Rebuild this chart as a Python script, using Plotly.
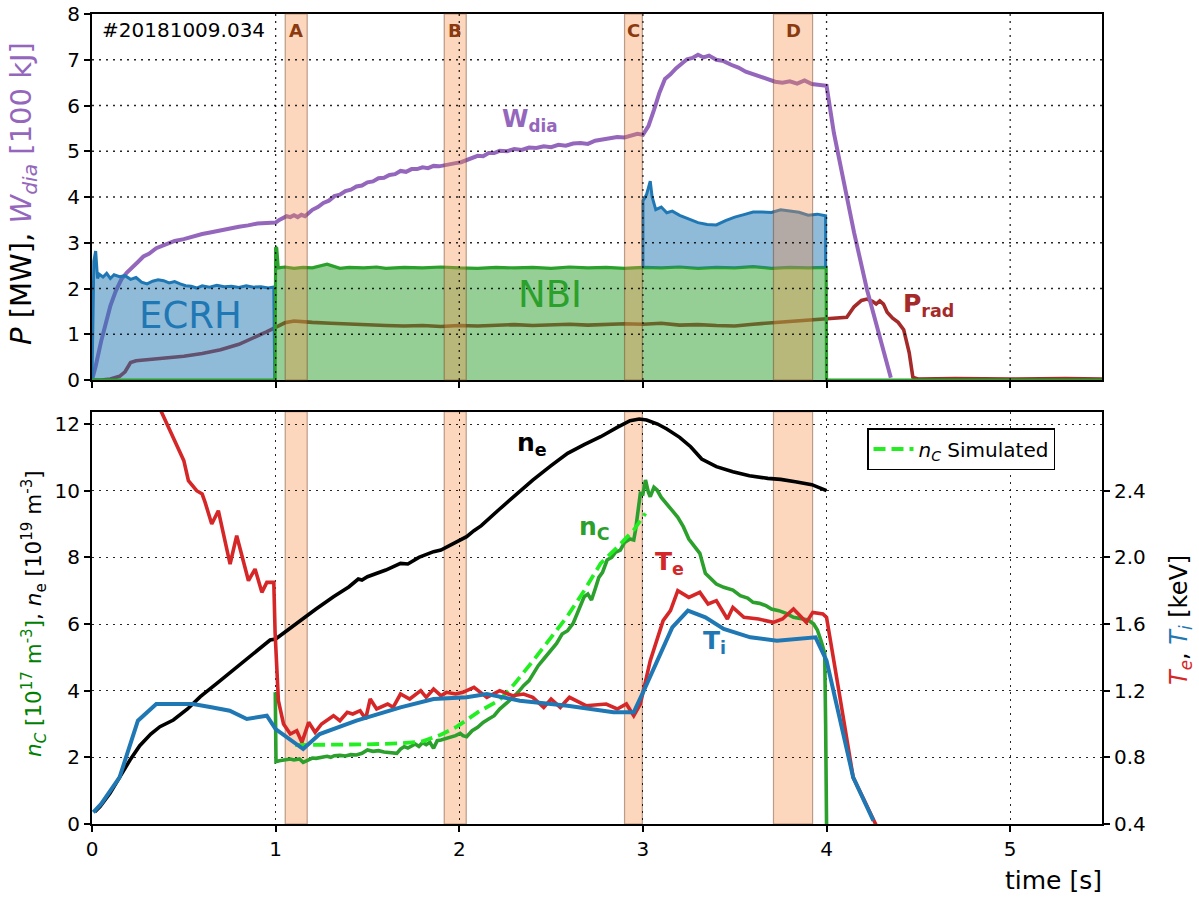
import numpy as np
import plotly.graph_objects as go

# ---------------- data ----------------
# heating phases / analysis windows
band_labels = ["A", "B", "C", "D"]
band_start = [1.052, 1.918, 2.900, 3.711]
band_end = [1.172, 2.038, 2.997, 3.924]

# ECRH power before NBI phase [MW]
ecrh1_t = [0.0, 0.004, 0.01, 0.02, 0.03, 0.04, 0.06, 0.08, 0.10, 0.12, 0.15, 0.18, 0.21, 0.24,
           0.27, 0.30, 0.33, 0.36, 0.39, 0.42, 0.45, 0.48, 0.51, 0.54, 0.57, 0.60, 0.64, 0.68,
           0.72, 0.76, 0.80, 0.84, 0.88, 0.92, 0.96, 0.99, 0.995]
ecrh1_p = [0.0, 1.33, 2.60, 2.82, 2.22, 2.31, 2.25, 2.33, 2.22, 2.30, 2.26, 2.28, 2.20, 2.24,
           2.14, 2.10, 2.16, 2.19, 2.17, 2.12, 2.15, 2.10, 2.06, 2.05, 2.01, 2.06, 2.03, 2.07,
           2.04, 2.05, 2.02, 2.06, 2.03, 2.04, 2.01, 2.03, 0.0]

# ECRH power added on top of NBI [MW]
ecrh2_t = [3.00, 3.01, 3.02, 3.04, 3.05, 3.07, 3.10, 3.13, 3.16, 3.20, 3.25, 3.30, 3.35, 3.40,
           3.45, 3.50, 3.55, 3.60, 3.65, 3.70, 3.75, 3.80, 3.85, 3.90, 3.95, 3.995]
ecrh2_p = [1.46, 1.52, 1.60, 1.89, 1.55, 1.27, 1.33, 1.20, 1.23, 1.13, 1.07, 1.00, 0.95, 0.93,
           1.03, 1.11, 1.15, 1.19, 1.21, 1.22, 1.27, 1.23, 1.21, 1.15, 1.17, 1.13]

# NBI power [MW]
nbi_t = [0.0, 0.997, 1.0, 1.006, 1.014, 1.05, 1.10, 1.15, 1.20, 1.28, 1.35, 1.40, 1.48, 1.55,
         1.60, 1.70, 1.80, 1.90, 2.00, 2.10, 2.20, 2.30, 2.40, 2.50, 2.60, 2.70, 2.80, 2.90,
         3.00, 3.10, 3.20, 3.30, 3.40, 3.50, 3.60, 3.70, 3.80, 3.90, 3.998, 4.0, 5.5]
nbi_p = [0.0, 0.0, 2.90, 2.88, 2.45, 2.47, 2.44, 2.46, 2.45, 2.53, 2.44, 2.46, 2.45, 2.47,
         2.44, 2.46, 2.45, 2.47, 2.45, 2.44, 2.46, 2.45, 2.46, 2.44, 2.47, 2.45, 2.46, 2.44,
         2.46, 2.45, 2.47, 2.44, 2.46, 2.45, 2.48, 2.44, 2.46, 2.45, 2.46, 0.0, 0.0]

# radiated power [MW]
prad_t = [0.0, 0.05, 0.10, 0.15, 0.18, 0.21, 0.24, 0.30, 0.40, 0.50, 0.60, 0.70, 0.80, 0.90,
          0.95, 1.00, 1.05, 1.10, 1.15, 1.20, 1.30, 1.40, 1.50, 1.60, 1.70, 1.80, 1.90, 2.00,
          2.10, 2.20, 2.30, 2.40, 2.50, 2.60, 2.70, 2.80, 2.90, 3.00, 3.10, 3.20, 3.30, 3.40,
          3.50, 3.60, 3.70, 3.80, 3.90, 4.00, 4.05, 4.11, 4.15, 4.19, 4.22, 4.25, 4.27, 4.29,
          4.31, 4.33, 4.36, 4.39, 4.42, 4.45, 4.47, 4.50, 4.70, 5.00, 5.30, 5.50]
prad_p = [0.0, 0.0, 0.02, 0.08, 0.18, 0.38, 0.42, 0.44, 0.48, 0.52, 0.58, 0.66, 0.78, 0.95,
          1.05, 1.15, 1.25, 1.29, 1.27, 1.26, 1.24, 1.22, 1.20, 1.19, 1.18, 1.19, 1.17, 1.19,
          1.18, 1.20, 1.21, 1.19, 1.21, 1.22, 1.20, 1.22, 1.23, 1.22, 1.24, 1.20, 1.21, 1.19,
          1.18, 1.22, 1.25, 1.28, 1.30, 1.33, 1.35, 1.37, 1.60, 1.74, 1.77, 1.72, 1.66, 1.73,
          1.66, 1.48, 1.35, 1.26, 1.10, 0.60, 0.06, 0.02, 0.03, 0.02, 0.03, 0.02]

# diamagnetic energy [100 kJ]
wdia_t = [0.00, 0.02, 0.05, 0.08, 0.10, 0.13, 0.16, 0.19, 0.22, 0.25, 0.28, 0.31, 0.35, 0.40,
          0.45, 0.50, 0.55, 0.60, 0.65, 0.70, 0.75, 0.80, 0.85, 0.90, 0.95, 1.00, 1.02, 1.04,
          1.06, 1.08, 1.10, 1.12, 1.14, 1.16, 1.18, 1.20, 1.23, 1.26, 1.29, 1.32, 1.35, 1.38,
          1.41, 1.44, 1.47, 1.50, 1.53, 1.56, 1.59, 1.62, 1.65, 1.68, 1.71, 1.74, 1.77, 1.80,
          1.83, 1.86, 1.89, 1.92, 1.95, 1.98, 2.01, 2.04, 2.07, 2.10, 2.13, 2.16, 2.19, 2.22,
          2.26, 2.30, 2.34, 2.38, 2.42, 2.46, 2.50, 2.54, 2.58, 2.62, 2.66, 2.70, 2.74, 2.78,
          2.82, 2.86, 2.90, 2.94, 2.97, 3.00, 3.03, 3.06, 3.09, 3.12, 3.15, 3.18, 3.21, 3.24,
          3.27, 3.30, 3.33, 3.36, 3.40, 3.44, 3.48, 3.52, 3.56, 3.60, 3.64, 3.68, 3.72, 3.76,
          3.80, 3.84, 3.88, 3.92, 3.96, 4.00, 4.04, 4.10, 4.15, 4.22, 4.30, 4.35]
wdia_v = [0.00, 0.30, 0.85, 1.35, 1.62, 1.95, 2.20, 2.35, 2.48, 2.58, 2.70, 2.76, 2.88, 2.96,
          3.04, 3.08, 3.14, 3.19, 3.23, 3.27, 3.33, 3.35, 3.38, 3.42, 3.43, 3.44, 3.50, 3.54,
          3.58, 3.56, 3.60, 3.56, 3.61, 3.58, 3.66, 3.72, 3.78, 3.87, 3.92, 4.02, 4.05, 4.13,
          4.16, 4.23, 4.25, 4.32, 4.34, 4.41, 4.42, 4.48, 4.50, 4.57, 4.55, 4.61, 4.61, 4.65,
          4.63, 4.68, 4.67, 4.70, 4.72, 4.74, 4.76, 4.81, 4.84, 4.90, 4.89, 4.96, 4.96, 5.01,
          5.00, 5.05, 5.03, 5.08, 5.07, 5.11, 5.09, 5.14, 5.12, 5.17, 5.18, 5.16, 5.23, 5.25,
          5.29, 5.31, 5.30, 5.35, 5.38, 5.36, 5.55, 5.90, 6.28, 6.58, 6.68, 6.81, 6.91, 7.01,
          7.04, 7.11, 7.05, 7.09, 7.00, 6.97, 6.89, 6.83, 6.74, 6.69, 6.63, 6.58, 6.52, 6.50,
          6.53, 6.48, 6.55, 6.47, 6.46, 6.43, 5.40, 4.23, 3.22, 1.98, 0.82, 0.05]

# electron density [1e19 m^-3]
ne_t = [0.016, 0.044, 0.098, 0.15, 0.207, 0.26, 0.32, 0.37, 0.443, 0.52, 0.59, 0.68, 0.77,
        0.86, 0.92, 0.97, 1.0, 1.06, 1.13, 1.22, 1.315, 1.40, 1.45, 1.47, 1.50, 1.60, 1.68,
        1.72, 1.78, 1.86, 1.90, 1.96, 2.04, 2.08, 2.12, 2.22, 2.30, 2.40, 2.50, 2.59, 2.68,
        2.77, 2.86, 2.93, 2.98, 3.02, 3.08, 3.13, 3.20, 3.26, 3.32, 3.40, 3.49, 3.58, 3.68,
        3.75, 3.83, 3.92, 4.0]
ne_v = [0.37, 0.52, 0.92, 1.40, 1.92, 2.35, 2.70, 2.92, 3.12, 3.45, 3.82, 4.22, 4.62, 5.02,
        5.30, 5.52, 5.55, 5.80, 6.07, 6.45, 6.82, 7.12, 7.35, 7.32, 7.42, 7.62, 7.82, 7.80,
        8.00, 8.17, 8.22, 8.40, 8.62, 8.80, 8.95, 9.45, 9.85, 10.32, 10.75, 11.12, 11.38,
        11.62, 11.90, 12.10, 12.15, 12.12, 12.00, 11.85, 11.60, 11.32, 10.95, 10.72, 10.57,
        10.45, 10.37, 10.34, 10.27, 10.18, 10.00]

# carbon density, measured [1e17 m^-3]
nc_t = [0.998, 1.002, 1.02, 1.05, 1.08, 1.10, 1.13, 1.15, 1.17, 1.20, 1.22, 1.25, 1.28, 1.30,
        1.32, 1.35, 1.38, 1.41, 1.44, 1.47, 1.50, 1.53, 1.56, 1.59, 1.62, 1.64, 1.66, 1.68,
        1.70, 1.72, 1.74, 1.76, 1.78, 1.80, 1.82, 1.84, 1.86, 1.88, 1.90, 1.92, 1.95, 1.98,
        2.005, 2.02, 2.04, 2.07, 2.10, 2.13, 2.16, 2.19, 2.22, 2.26, 2.29, 2.32, 2.35, 2.38,
        2.405, 2.43, 2.46, 2.49, 2.53, 2.56, 2.59, 2.62, 2.65, 2.68, 2.70, 2.72, 2.74, 2.76,
        2.78, 2.805, 2.83, 2.85, 2.877, 2.90, 2.93, 2.95, 2.96, 2.975, 2.986, 3.0, 3.014,
        3.03, 3.04, 3.06, 3.077, 3.10, 3.13, 3.16, 3.19, 3.22, 3.25, 3.28, 3.31, 3.34, 3.37,
        3.40, 3.44, 3.49, 3.53, 3.57, 3.60, 3.635, 3.67, 3.70, 3.74, 3.78, 3.82, 3.86, 3.90,
        3.93, 3.95, 3.97, 3.99, 3.995, 4.0]
nc_v = [3.95, 1.87, 1.90, 1.93, 1.95, 1.92, 1.95, 1.85, 1.90, 1.98, 1.97, 2.00, 2.03, 2.00,
        2.05, 2.06, 2.04, 2.08, 2.07, 2.12, 2.22, 2.18, 2.20, 2.16, 2.15, 2.12, 2.12, 2.25,
        2.32, 2.28, 2.35, 2.40, 2.33, 2.44, 2.38, 2.45, 2.27, 2.50, 2.52, 2.55, 2.60, 2.65,
        2.72, 2.65, 2.62, 2.80, 2.90, 3.05, 3.15, 3.25, 3.45, 3.62, 3.78, 3.95, 4.15, 4.30,
        4.52, 4.75, 4.95, 5.15, 5.42, 5.70, 5.80, 6.02, 6.45, 6.82, 6.90, 6.72, 7.05, 7.40,
        7.55, 7.92, 8.00, 8.15, 8.22, 8.45, 8.55, 8.52, 8.82, 9.40, 9.92, 9.90, 10.32,
        9.95, 9.82, 10.10, 10.02, 9.80, 9.62, 9.40, 9.20, 8.92, 8.55, 8.35, 8.12, 7.52, 7.35,
        7.20, 7.10, 7.02, 6.85, 6.78, 6.65, 6.62, 6.55, 6.45, 6.40, 6.32, 6.20, 6.15, 6.12,
        6.00, 5.82, 5.50, 5.12, 3.00, 0.0]

# carbon density, simulated [1e17 m^-3]
ncsim_t = [1.106, 1.30, 1.50, 1.68, 1.80, 1.90, 1.987, 2.04, 2.10, 2.22, 2.30, 2.405, 2.50,
           2.587, 2.68, 2.77, 2.86, 2.95, 3.014]
ncsim_v = [2.37, 2.37, 2.39, 2.42, 2.48, 2.68, 2.92, 3.12, 3.35, 3.72, 4.20, 4.92, 5.60,
           6.22, 7.00, 7.82, 8.30, 8.82, 9.32]

# electron temperature [keV]
te_t = [0.30, 0.38, 0.50, 0.525, 0.57, 0.60, 0.616, 0.652, 0.688, 0.752, 0.788, 0.852, 0.888,
        0.925, 0.952, 0.99, 0.997, 1.015, 1.043, 1.08, 1.115, 1.143, 1.18, 1.215, 1.25, 1.315,
        1.35, 1.39, 1.42, 1.46, 1.49, 1.515, 1.55, 1.61, 1.64, 1.68, 1.73, 1.79, 1.82, 1.86,
        1.90, 1.93, 1.98, 2.02, 2.08, 2.15, 2.22, 2.29, 2.35, 2.40, 2.46, 2.50, 2.55, 2.60,
        2.69, 2.80, 2.86, 2.91, 2.95, 2.986, 3.04, 3.11, 3.15, 3.19, 3.25, 3.31, 3.355, 3.40,
        3.46, 3.49, 3.55, 3.63, 3.71, 3.76, 3.82, 3.89, 3.925, 3.98, 4.0, 4.07, 4.145, 4.267,
        4.28]
te_v = [3.06, 2.87, 2.58, 2.46, 2.40, 2.38, 2.33, 2.20, 2.28, 1.96, 2.13, 1.86, 1.93, 1.79,
        1.85, 1.85, 1.55, 1.14, 1.00, 0.94, 0.96, 0.89, 1.01, 0.95, 1.00, 1.05, 1.02, 1.07,
        1.06, 1.08, 1.03, 1.15, 1.09, 1.12, 1.10, 1.18, 1.15, 1.20, 1.16, 1.21, 1.17, 1.19,
        1.18, 1.19, 1.22, 1.16, 1.20, 1.17, 1.18, 1.16, 1.10, 1.15, 1.10, 1.16, 1.11, 1.12,
        1.09, 1.12, 1.05, 1.12, 1.38, 1.62, 1.68, 1.80, 1.76, 1.79, 1.72, 1.74, 1.63, 1.70,
        1.64, 1.63, 1.61, 1.63, 1.69, 1.61, 1.67, 1.66, 1.64, 1.18, 0.68, 0.40, 0.37]

# ion temperature [keV]
ti_t = [0.007, 0.05, 0.15, 0.25, 0.35, 0.55, 0.65, 0.75, 0.843, 0.952, 1.0, 1.15, 1.24, 1.44,
        1.68, 1.86, 2.04, 2.15, 2.33, 2.59, 2.84, 2.95, 3.005, 3.16, 3.245, 3.34, 3.44, 3.585,
        3.73, 3.94, 4.0, 4.145, 4.255]
ti_v = [0.47, 0.52, 0.68, 1.02, 1.12, 1.12, 1.10, 1.08, 1.03, 1.05, 0.97, 0.85, 0.94, 1.02,
        1.10, 1.15, 1.16, 1.18, 1.14, 1.11, 1.07, 1.07, 1.20, 1.58, 1.68, 1.64, 1.57, 1.52,
        1.50, 1.52, 1.38, 0.68, 0.42]

x_ticks = [0, 1, 2, 3, 4, 5]
p_ticks = [0, 1, 2, 3, 4, 5, 6, 7, 8]
n_ticks = [0, 2, 4, 6, 8, 10, 12]
t_ticks = [0.4, 0.8, 1.2, 1.6, 2.0, 2.4]

# ---------------- styling ----------------
C_BLUE = "#1f77b4"
C_GREEN = "#2ca02c"
C_DKGREEN = "#008000"
C_RED = "#d62728"
C_PURPLE = "#9467bd"
C_BROWN = "#a52a2a"
C_LIME = "#22ee22"
C_BAND_TXT = "#8b3a0f"
FONT = "DejaVu Sans"
LW = 3.6

N_TOP = 12.37                  # upper limit of the density axis
T_LO, T_PER_N = 0.4, 0.2       # temperature axis is tied to the density grid

fig = go.Figure()

# --- top panel: powers and stored energy ---
fig.add_trace(go.Scatter(x=prad_t, y=prad_p, mode="lines", line=dict(color=C_BROWN, width=LW),
                         xaxis="x", yaxis="y", showlegend=False))
fig.add_trace(go.Scatter(x=wdia_t, y=wdia_v, mode="lines", line=dict(color=C_PURPLE, width=4),
                         xaxis="x", yaxis="y", showlegend=False))
fig.add_trace(go.Scatter(x=ecrh1_t, y=ecrh1_p, mode="lines", fill="tozeroy",
                         fillcolor="rgba(31,119,180,0.5)", line=dict(color=C_BLUE, width=3),
                         xaxis="x", yaxis="y", showlegend=False))
fig.add_trace(go.Scatter(x=nbi_t, y=nbi_p, mode="lines", fill="tozeroy",
                         fillcolor="rgba(44,160,44,0.5)", line=dict(color=C_GREEN, width=3.2),
                         xaxis="x", yaxis="y", showlegend=False))

# ECRH stacked on the NBI power
nbi_under = np.interp(ecrh2_t, nbi_t, nbi_p)
stack_top = nbi_under + np.array(ecrh2_p)
poly_x = list(ecrh2_t) + list(ecrh2_t[::-1])
poly_y = list(stack_top) + list(nbi_under[::-1])
fig.add_trace(go.Scatter(x=poly_x, y=poly_y, mode="lines", fill="toself",
                         fillcolor="rgba(31,119,180,0.5)", line=dict(width=0),
                         xaxis="x", yaxis="y", showlegend=False, hoverinfo="skip"))
edge_x = [ecrh2_t[0]] + list(ecrh2_t) + [ecrh2_t[-1]]
edge_y = [nbi_under[0]] + list(stack_top) + [nbi_under[-1]]
fig.add_trace(go.Scatter(x=edge_x, y=edge_y, mode="lines", line=dict(color=C_BLUE, width=3),
                         xaxis="x", yaxis="y", showlegend=False))

# --- bottom panel: densities and temperatures ---
fig.add_trace(go.Scatter(x=ne_t, y=ne_v, mode="lines", line=dict(color="black", width=LW),
                         xaxis="x2", yaxis="y2", showlegend=False))
fig.add_trace(go.Scatter(x=nc_t, y=nc_v, mode="lines", line=dict(color=C_GREEN, width=LW),
                         xaxis="x2", yaxis="y2", showlegend=False))
fig.add_trace(go.Scatter(x=ncsim_t, y=ncsim_v, mode="lines",
                         line=dict(color=C_LIME, width=3.8, dash="12px,6px"),
                         name="<i>n</i><sub><i>C</i></sub> Simulated",
                         xaxis="x2", yaxis="y2", showlegend=True))
fig.add_trace(go.Scatter(x=te_t, y=te_v, mode="lines", line=dict(color=C_RED, width=LW),
                         xaxis="x2", yaxis="y3", showlegend=False))
fig.add_trace(go.Scatter(x=ti_t, y=ti_v, mode="lines", line=dict(color=C_BLUE, width=4),
                         xaxis="x2", yaxis="y3", showlegend=False))

# ---------------- shapes: bands and top-panel grid ----------------
shapes = []
for x0, x1 in zip(band_start, band_end):
    shapes.append(dict(type="rect", xref="x", yref="y domain", x0=x0, x1=x1, y0=0, y1=1,
                       fillcolor="rgba(245,140,70,0.35)",
                       line=dict(color="rgba(110,60,30,0.45)", width=1.2), layer="above"))
    shapes.append(dict(type="rect", xref="x2", yref="y2 domain", x0=x0, x1=x1, y0=0, y1=1,
                       fillcolor="rgba(245,140,70,0.35)",
                       line=dict(color="rgba(110,60,30,0.45)", width=1.2), layer="below"))
GRID_DASH = "2px,5px"
for xv in x_ticks[1:]:
    shapes.append(dict(type="line", xref="x", yref="y domain", x0=xv, x1=xv, y0=0, y1=1,
                       line=dict(color="rgba(0,0,0,0.85)", width=1.3, dash=GRID_DASH),
                       layer="above"))
for yv in p_ticks[1:-1]:
    shapes.append(dict(type="line", xref="x domain", yref="y", x0=0, x1=1, y0=yv, y1=yv,
                       line=dict(color="rgba(0,0,0,0.85)", width=1.3, dash=GRID_DASH),
                       layer="above"))

# ---------------- annotations ----------------
ann = []
for lab, x0, x1 in zip(band_labels, band_start, band_end):
    ann.append(dict(text="<b>%s</b>" % lab, x=(x0 + x1) / 2, xref="x", y=7.65, yref="y",
                    xanchor="center", yanchor="middle", showarrow=False,
                    font=dict(size=18, color=C_BAND_TXT, family=FONT)))
ann.append(dict(text="#20181009.034", x=0.044, xref="x", y=7.65, yref="y", xanchor="left",
                yanchor="middle", showarrow=False, font=dict(size=20, color="black", family=FONT)))
ann.append(dict(text="ECRH", x=0.534, xref="x", y=1.42, yref="y", showarrow=False,
                xanchor="center", yanchor="middle",
                font=dict(size=37, color=C_BLUE, family=FONT)))
ann.append(dict(text="NBI", x=2.496, xref="x", y=1.87, yref="y", showarrow=False,
                xanchor="center", yanchor="middle",
                font=dict(size=37, color=C_GREEN, family=FONT)))
ann.append(dict(text="<b>W<sub>dia</sub></b>", x=2.223, xref="x", y=5.68, yref="y",
                xanchor="left", yanchor="middle", showarrow=False,
                font=dict(size=24, color=C_PURPLE, family=FONT)))
ann.append(dict(text="<b>P<sub>rad</sub></b>", x=4.403, xref="x", y=1.64, yref="y",
                xanchor="left", yanchor="middle", showarrow=False,
                font=dict(size=25, color=C_BROWN, family=FONT)))
ann.append(dict(text="<b>n<sub>e</sub></b>", x=2.305, xref="x2", y=11.4, yref="y2",
                xanchor="left", yanchor="middle", showarrow=False,
                font=dict(size=25, color="black", family=FONT)))
ann.append(dict(text="<b>n<sub>C</sub></b>", x=2.643, xref="x2", y=8.87, yref="y2",
                xanchor="left", yanchor="middle", showarrow=False,
                font=dict(size=25, color=C_GREEN, family=FONT)))
ann.append(dict(text="<b>T<sub>e</sub></b>", x=3.057, xref="x2", y=7.82, yref="y2",
                xanchor="left", yanchor="middle", showarrow=False,
                font=dict(size=25, color=C_RED, family=FONT)))
ann.append(dict(text="<b>T<sub>i</sub></b>", x=3.319, xref="x2", y=5.45, yref="y2",
                xanchor="left", yanchor="middle", showarrow=False,
                font=dict(size=25, color=C_BLUE, family=FONT)))

# axis titles
L, R, T, B = 92, 97, 14, 74
W, H = 1199, 898
PW, PH = W - L - R, H - T - B


def px2paper(px, py):
    return (px - L) / PW, (H - B - py) / PH


x0p, y0p = px2paper(23, 194)
ann.append(dict(text='<i>P</i> [MW], <span style="color:%s"><i>W</i><sub><i>dia</i></sub> [100 kJ]</span>' % C_PURPLE,
                x=x0p, y=y0p, xref="paper", yref="paper", textangle=-90, showarrow=False,
                xanchor="center", yanchor="middle",
                font=dict(size=29, color="black", family=FONT)))
x0p, y0p = px2paper(34, 614)
ann.append(dict(text='<span style="color:%s"><i>n</i><sub><i>C</i></sub> [10<sup>17</sup> m<sup>-3</sup>]</span>, <i>n</i><sub>e</sub> [10<sup>19</sup> m<sup>-3</sup>]' % C_DKGREEN,
                x=x0p, y=y0p, xref="paper", yref="paper", textangle=-90, showarrow=False,
                xanchor="center", yanchor="middle",
                font=dict(size=21.5, color="black", family=FONT)))
x0p, y0p = px2paper(1180, 620)
ann.append(dict(text='<span style="color:%s"><i>T</i><sub><i>e</i></sub></span>, <span style="color:%s"><i>T</i><sub><i>i</i></sub></span> [keV]' % (C_RED, C_BLUE),
                x=x0p, y=y0p, xref="paper", yref="paper", textangle=-90, showarrow=False,
                xanchor="center", yanchor="middle",
                font=dict(size=24, color="black", family=FONT)))
x0p, y0p = px2paper(1104, 880)
ann.append(dict(text="time [s]", x=x0p, y=y0p, xref="paper", yref="paper", xanchor="right",
                yanchor="middle", showarrow=False, font=dict(size=25, color="black", family=FONT)))

# ---------------- axes ----------------
tick_font = dict(size=20, color="black", family=FONT)
common = dict(showline=True, linecolor="black", linewidth=2, mirror=True, ticks="outside",
              ticklen=6, tickwidth=2, tickcolor="black", tickfont=tick_font, zeroline=False,
              automargin=False)
grid = dict(showgrid=True, gridcolor="rgba(0,0,0,0.85)", gridwidth=1.3, griddash=GRID_DASH)

top_lo = (H - B - 380) / PH
bot_hi = (H - B - 411.7) / PH

fig.update_layout(
    width=W, height=H,
    margin=dict(l=L, r=R, t=T, b=B, autoexpand=False),
    paper_bgcolor="white", plot_bgcolor="white",
    font=dict(family=FONT, color="black"),
    xaxis=dict(domain=[0, 1], anchor="y", range=[0, 5.5], tickvals=x_ticks,
               showticklabels=False, showgrid=False, **common),
    yaxis=dict(domain=[top_lo, 1], anchor="x", range=[0, 8], tickvals=p_ticks,
               showgrid=False, **common),
    xaxis2=dict(domain=[0, 1], anchor="y2", range=[0, 5.5], tickvals=x_ticks, **grid, **common),
    yaxis2=dict(domain=[0, bot_hi], anchor="x2", range=[0, N_TOP], tickvals=n_ticks,
                **grid, **common),
    yaxis3=dict(overlaying="y2", anchor="x2", side="right",
                range=[T_LO, T_LO + N_TOP * T_PER_N], tickvals=t_ticks,
                ticktext=["%.1f" % v for v in t_ticks], showgrid=False,
                showline=True, linecolor="black", linewidth=2, ticks="outside", ticklen=6,
                tickwidth=2, tickcolor="black", tickfont=tick_font, zeroline=False,
                automargin=False),
    shapes=shapes,
    annotations=ann,
    legend=dict(x=(867 - L) / PW, y=(H - B - 428) / PH, xanchor="left", yanchor="top",
                bgcolor="white", bordercolor="black", borderwidth=1.5, itemwidth=40,
                font=dict(size=20, color="black", family=FONT)),
)

fig.write_html("out.html")
